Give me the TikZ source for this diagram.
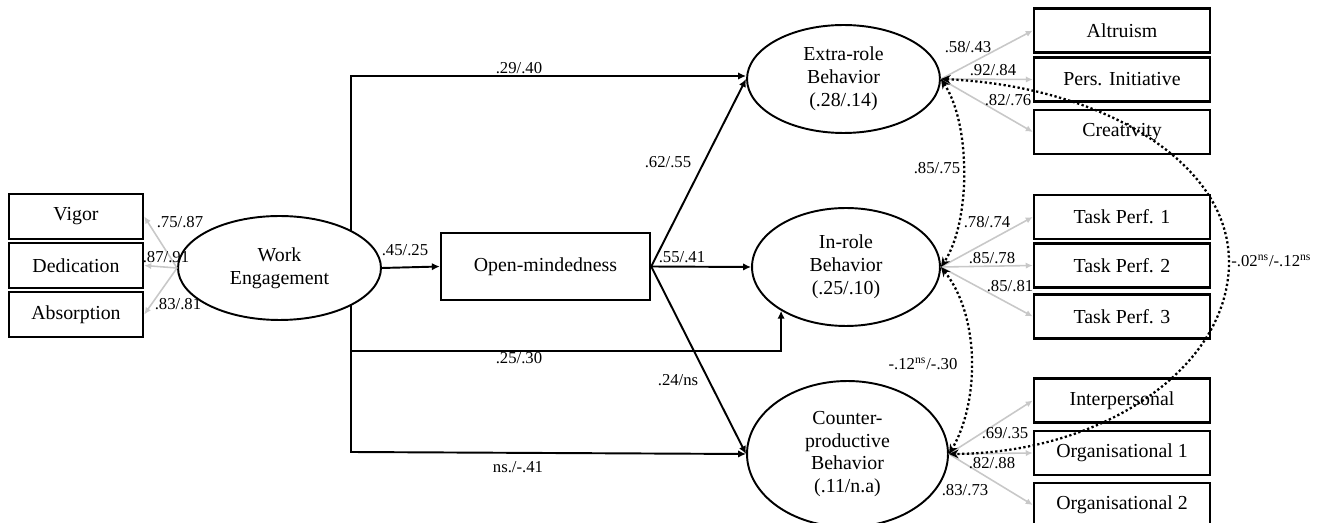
\documentclass[tikz,border=0pt]{standalone}
\usepackage{fontspec}
\setmainfont{Liberation Serif}
\usetikzlibrary{arrows.meta,calc,shapes.geometric,backgrounds}
\definecolor{loadgray}{RGB}{200,200,200}

\begin{document}
\begin{tikzpicture}[x=0.02cm,y=-0.02cm]
\tikzstyle{every node} = [font=\fontsize{11.3}{13}\selectfont,align=center,inner sep=0pt]
\tikzstyle{box} = [draw,line width=1.4pt]
\tikzstyle{lbox} = [box,minimum width=2.68cm,minimum height=0.9cm]
\tikzstyle{rbox} = [box,minimum width=3.52cm,minimum height=0.88cm]
\tikzstyle{latent} = [draw,ellipse,line width=1.1pt,fill=white]
\tikzstyle{coef} = [font=\fontsize{9.5}{11}\selectfont]
\tikzstyle{arr} = [line width=1.1pt,-{Latex[length=4.5pt,width=4.2pt]}]
\tikzstyle{load} = [line width=0.9pt,draw=loadgray,-{Latex[length=4pt,width=3.6pt]}]
\tikzstyle{cov} = [line width=1.3pt,dash pattern=on 1.3pt off 1.4pt,
	{Stealth[length=5.5pt,width=5pt]}-{Stealth[length=5.5pt,width=5pt]}]
\useasboundingbox (0,0) rectangle (1320,523);

\path (76,216.5) node[lbox] (vig) {Vigor}
		(76,265.5) node[lbox] (ded) {Dedication}
		(76,314.5) node[lbox] (abs) {Absorption}
		(279.5,268) node[latent,minimum width=4.06cm,minimum height=2.08cm] (we) {Work\\Engagement}
		(545.5,266.5) node[box,minimum width=4.18cm,minimum height=1.34cm] (om) {Open-mindedness}
		(843.5,79) node[latent,minimum width=3.86cm,minimum height=2.16cm] (er) {Extra-role\\Behavior\\(.28/.14)}
		(846,267) node[latent,minimum width=3.76cm,minimum height=2.36cm] (ir) {In-role\\Behavior\\(.25/.10)}
		(847.5,454) node[latent,minimum width=4.02cm,minimum height=2.92cm] (cp) {Counter-\\productive\\Behavior\\(.11/n.a)};

\path (1122,30.5) node[rbox] (alt) {Altruism}
		(1122,79.5) node[rbox] (pi) {Pers. Initiative}
		(1122,132) node[rbox] (cre) {Creativity}
		(1122,217) node[rbox] (tp1) {Task Perf. 1}
		(1122,265.5) node[rbox] (tp2) {Task Perf. 2}
		(1122,316.5) node[rbox] (tp3) {Task Perf. 3}
		(1122,400.5) node[rbox] (ip) {Interpersonal}
		(1122,453) node[rbox] (org1) {Organisational 1}
		(1122,505) node[rbox] (org2) {Organisational 2};

\coordinate (tt) at (351,76);
\coordinate (tm) at (351,351);
\coordinate (tb) at (351,452);
\coordinate (cr) at (1229,262);

	% direct paths from work engagement
	\begin{scope}[on background layer]
	\draw[line width=1.1pt,line cap=rect] (tt) -- (tb);
	\end{scope}
	\draw[arr] (tt) -- (er.west |- tt);
	\draw[arr] (tm) -| (ir.214);
	\draw[arr] (tb) -- (node cs:name=cp,anchor=west);
	\draw[arr] (node cs:name=we,anchor=east) -- (node cs:name=om,anchor=west);
	\draw[arr] (node cs:name=om,anchor=east) -- (node cs:name=er,anchor=west);
	\draw[arr] (node cs:name=om,anchor=east) -- (node cs:name=ir,anchor=west);
	\draw[arr] (node cs:name=om,anchor=east) -- (node cs:name=cp,anchor=west);

	% loadings
	\draw[load] (we.west) -- (vig.east);
	\draw[load] (we.west) -- (ded.east);
	\draw[load] (we.west) -- (abs.east);
	\draw[load] (er.east) -- (alt.west);
	\draw[load] (er.east) -- (pi.west);
	\draw[load] (er.east) -- (cre.west);
	\draw[load] (ir.east) -- (tp1.west);
	\draw[load] (ir.east) -- (tp2.west);
	\draw[load] (ir.east) -- (tp3.west);
	\draw[load] (cp.east) -- (ip.west);
	\draw[load] (cp.east) -- (org1.west);
	\draw[load] (cp.east) -- (org2.west);

	% correlations
	\draw[cov] (er.east) .. controls ($(er.east)+(30,45)$) and ($(ir.east)+(30,-45)$) .. (ir.east);
	\draw[cov] (ir.east) .. controls ($(ir.east)+(40,50)$) and ($(cp.east)+(30,-50)$) .. (cp.east);
	\draw[cov] (er.east) .. controls (1100,86) and (1229,161) .. (cr)
		.. controls (1229,368) and (1103,453) .. (cp.east);

\path (519,68) node[coef] (c-we-er) {.29/.40}
		(405,250) node[coef] (c-we-om) {.45/.25}
		(668,162) node[coef] (c-om-er) {.62/.55}
		(682,257) node[coef] (c-om-ir) {.55/.41}
		(678,380) node[coef] (c-om-cp) {.24/ns}
		(519,358) node[coef] (c-we-ir) {.25/.30}
		(518,467) node[coef] (c-we-cp) {ns./-.41}
		(180,222) node[coef] (c-vig) {.75/.87}
		(166,257) node[coef] (c-ded) {.87/.91}
		(178,304) node[coef] (c-abs) {.83/.81}
		(968,47) node[coef] (c-alt) {.58/.43}
		(993,70) node[coef] (c-pi) {.92/.84}
		(1008,100) node[coef] (c-cre) {.82/.76}
		(937,168) node[coef] (c-er-ir) {.85/.75}
		(987,222) node[coef] (c-tp1) {.78/.74}
		(992,258) node[coef] (c-tp2) {.85/.78}
		(1010,286) node[coef] (c-tp3) {.85/.81}
		(923,364) node[coef] (c-ir-cp) {-.12\textsuperscript{ns}/-.30}
		(1005,433) node[coef] (c-ip) {.69/.35}
		(992,463) node[coef] (c-org1) {.82/.88}
		(965,490) node[coef] (c-org2) {.83/.73}
		(1231,261) node[coef,anchor=west] (c-er-cp) {-.02\textsuperscript{ns}/-.12\textsuperscript{ns}};
\end{tikzpicture}
\end{document}
